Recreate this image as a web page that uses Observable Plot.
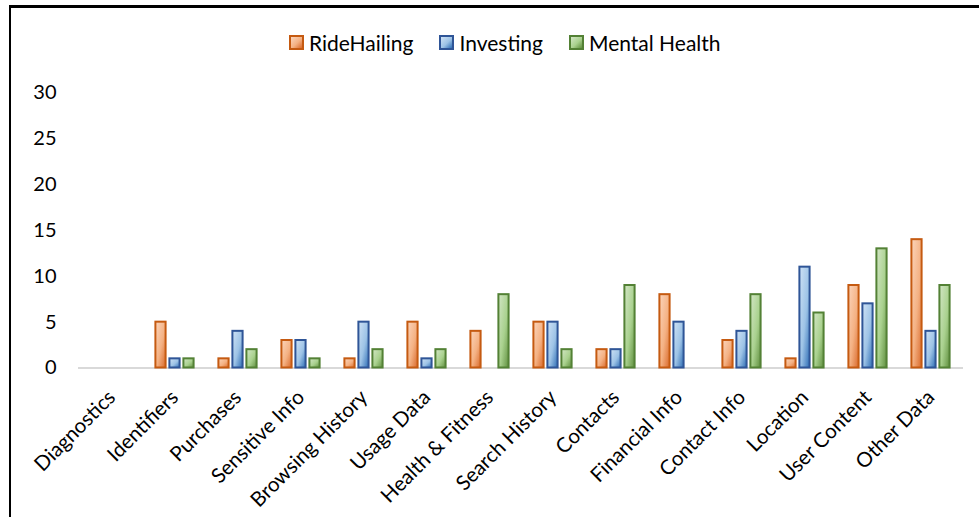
<!DOCTYPE html>
<html>
<head>
<meta charset="utf-8">
<script src="https://cdn.jsdelivr.net/npm/d3@7"></script>
<script src="https://cdn.jsdelivr.net/npm/@observablehq/plot@0.6"></script>
<style>
  body { margin: 0; background: #fff; font-family: Lato, "Open Sans", sans-serif; }
  #wrap { position: relative; width: 979px; height: 526px; overflow: hidden; background: #fff; }
  #frameTop { position: absolute; left: 9px; top: 5px; width: 970px; height: 3px; background: #000; }
  #frameLeft { position: absolute; left: 9px; top: 5px; width: 2px; height: 512px; background: #000; }
  #legend { position: absolute; top: 30px; left: 289px; display: flex; align-items: center; font-size: 21px; color: #000; white-space: nowrap; }
  .item { display: flex; align-items: center; margin-right: 26px; }
  .sw { width: 11px; height: 11px; border: 2px solid; margin-right: 5px; }
  #chart { position: absolute; left: 0; top: 0; }
</style>
</head>
<body>
<div id="wrap">
  <div id="chart"></div>
  <div id="frameTop"></div>
  <div id="frameLeft"></div>
  <div id="legend"></div>
</div>
<script>
// Data categories and per-service counts
const categories = ["Diagnostics", "Identifiers", "Purchases", "Sensitive Info", "Browsing History",
  "Usage Data", "Health & Fitness", "Search History", "Contacts", "Financial Info",
  "Contact Info", "Location", "User Content", "Other Data"];
const seriesNames = ["RideHailing", "Investing", "Mental Health"];
const rideHailing  = [0, 5, 1, 3, 1, 5, 4, 5, 2, 8, 3, 1, 9, 14];
const investing    = [0, 1, 4, 3, 5, 1, 0, 5, 2, 5, 4, 11, 7, 4];
const mentalHealth = [0, 1, 2, 1, 2, 2, 8, 2, 9, 0, 8, 6, 13, 9];
const yTicks = [0, 5, 10, 15, 20, 25, 30];

const seriesValues = [rideHailing, investing, mentalHealth];
const strokes = ["#c55a11", "#2f5597", "#538135"];
const gradIds = ["gOrange", "gBlue", "gGreen"];
const gradStops = [
  ["#fbd5bc", "#f4b183", "#d9692a"],
  ["#cfe2f5", "#9dc3e6", "#2e6db5"],
  ["#d3e6c6", "#a9d18e", "#5f8f3e"]
];
const offsets = [-14, 0, 14];

const barMarks = seriesValues.map((vals, i) => {
  const rows = categories.map((c, j) => ({category: c, value: vals[j]})).filter(d => d.value > 0);
  return Plot.barY(rows, {
    x: "category", y: "value", dx: offsets[i],
    insetLeft: 26.4, insetRight: 26.4,
    fill: `url(#${gradIds[i]})`, stroke: strokes[i], strokeWidth: 2
  });
});

const chart = Plot.plot({
  width: 979, height: 526,
  marginLeft: 78, marginRight: 16, marginTop: 92.5, marginBottom: 158.5,
  style: {fontFamily: "Lato, 'Open Sans', sans-serif", fontSize: "20px", color: "#000", background: "transparent"},
  x: {domain: categories, padding: 0, label: null},
  y: {domain: [0, 30], label: null},
  marks: [
    Plot.ruleY([0], {stroke: "#d9d9d9", strokeWidth: 2}),
    ...barMarks,
    Plot.axisY({ticks: yTicks, tickSize: 0, tickPadding: 22, fontSize: 20, label: null}),
    Plot.axisX({tickSize: 0, tickRotate: -45, tickPadding: 26, fontSize: 20.5, label: null})
  ]
});

// gradient fills for the bars
const svgNS = "http://www.w3.org/2000/svg";
const defs = document.createElementNS(svgNS, "defs");
gradIds.forEach((id, i) => {
  const g = document.createElementNS(svgNS, "linearGradient");
  g.setAttribute("id", id);
  g.setAttribute("x1", "0"); g.setAttribute("y1", "0");
  g.setAttribute("x2", "1"); g.setAttribute("y2", "1");
  [0, 0.55, 1].forEach((o, k) => {
    const s = document.createElementNS(svgNS, "stop");
    s.setAttribute("offset", o);
    s.setAttribute("stop-color", gradStops[i][k]);
    g.appendChild(s);
  });
  defs.appendChild(g);
});
chart.insertBefore(defs, chart.firstChild);
document.getElementById("chart").appendChild(chart);

// legend
const legend = document.getElementById("legend");
seriesNames.forEach((name, i) => {
  const item = document.createElement("div");
  item.className = "item";
  const sw = document.createElement("div");
  sw.className = "sw";
  sw.style.borderColor = strokes[i];
  sw.style.background = `linear-gradient(135deg, ${gradStops[i][0]}, ${gradStops[i][1]} 55%, ${gradStops[i][2]})`;
  const label = document.createElement("span");
  label.textContent = name;
  item.appendChild(sw);
  item.appendChild(label);
  legend.appendChild(item);
});
</script>
</body>
</html>
